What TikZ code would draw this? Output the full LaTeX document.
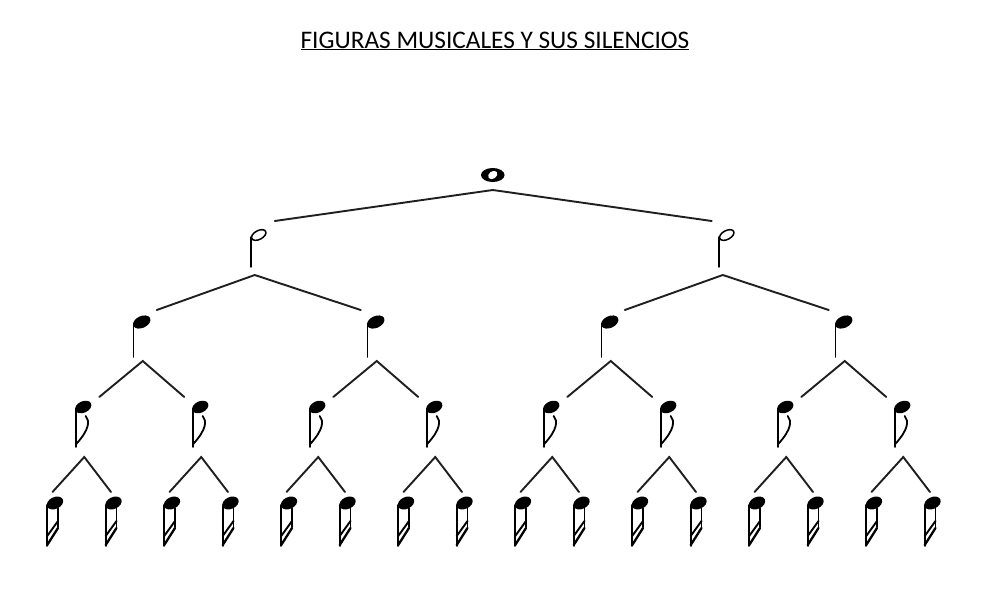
\documentclass[tikz,border=0pt]{standalone}
\usepackage{fontspec}
\setmainfont{Carlito}
\begin{document}
\begin{tikzpicture}[x=1pt,y=-1pt,line cap=round]
\tikzset{
  conn/.style={line width=1.9pt,draw=black!88},
  stemline/.style={line width=1.8pt},
  pics/notewhole/.style={code={
    \fill (0,0) ellipse [x radius=11.8,y radius=7];
    \fill[white,rotate=35] (0,0) ellipse [x radius=5,y radius=3.7];
  }},
  pics/notehalf/.style={code={
    \draw[line width=1.5pt,rotate=28] (0,0) ellipse [x radius=7.8,y radius=4.4];
    \draw[line width=1.4pt] (-7.6,2) -- (-7.6,32);
  }},
  pics/notequarter/.style={code={
    \fill[rotate=25] (0,0) ellipse [x radius=9.2,y radius=5.9];
    \draw[stemline] (-8.3,2) -- (-8.3,35);
  }},
  pics/noteeighth/.style={code={
    \fill[rotate=25] (0,0) ellipse [x radius=8.6,y radius=5.7];
    \draw[stemline] (-7.2,2) -- (-7.2,40);
    \draw[line width=1.8pt] (2.5,9) .. controls (6.5,14) and (6.5,22) .. (-7,37);
  }},
  pics/notesixteenth/.style={code={
    \fill[rotate=25] (0,0) ellipse [x radius=8.6,y radius=5.9];
    \draw[stemline] (-7.8,2) -- (-7.8,43);
    \draw[line width=1.5pt] (3,5) -- (3,24);
    \draw[line width=1.9pt] (3,18) -- (-7.8,33);
    \draw[line width=2.3pt] (3,25) -- (-7.8,42);
  }}
}
\fill[white] (0,0) rectangle (990,598);
\useasboundingbox (0,0) rectangle (990,598);

\node[font=\fontsize{25.3}{30}\selectfont,anchor=base,inner sep=0pt] (title) at (495,48)
  {\underline{FIGURAS MUSICALES Y SUS SILENCIOS}};

% root (whole note)
\coordinate (w) at (492.75,175);
\pic at (w) {notewhole};
\coordinate (w-a) at (492.75,190);

% half notes
\foreach \m in {0,1} {
  \pgfmathsetmacro\xx{258.75+468*\m}
  \pgfmathsetmacro\off{ifthenelse(\m==0,16,-15)}
  \coordinate (h\m) at (\xx,235);
  \pic at (h\m) {notehalf};
  \coordinate (h\m-a) at (\xx-4,275);
  \coordinate (h\m-t) at (\xx+\off,221);
}
\draw[conn] (h0-t) -- (w-a) -- (h1-t);

% quarter notes
\foreach \k in {0,...,3} {
  \pgfmathsetmacro\xx{141.75+234*\k}
  \pgfmathsetmacro\off{ifthenelse(mod(\k,2)==0,15,-15)}
  \coordinate (q\k) at (\xx,322);
  \pic at (q\k) {notequarter};
  \coordinate (q\k-a) at (\xx+1,361);
  \coordinate (q\k-t) at (\xx+\off,310);
}
\foreach \m in {0,1} {
  \pgfmathtruncatemacro\l{2*\m}
  \pgfmathtruncatemacro\r{2*\m+1}
  \draw[conn] (q\l-t) -- (h\m-a) -- (q\r-t);
}

% eighth notes
\foreach \j in {0,...,7} {
  \pgfmathsetmacro\xx{83.25+117*\j}
  \pgfmathsetmacro\off{ifthenelse(mod(\j,2)==0,16,-16)}
  \coordinate (e\j) at (\xx,407);
  \pic at (e\j) {noteeighth};
  \coordinate (e\j-a) at (\xx+1,457);
  \coordinate (e\j-t) at (\xx+\off,397);
}
\foreach \k in {0,...,3} {
  \pgfmathtruncatemacro\l{2*\k}
  \pgfmathtruncatemacro\r{2*\k+1}
  \draw[conn] (e\l-t) -- (q\k-a) -- (e\r-t);
}

% sixteenth notes
\foreach \i in {0,...,15} {
  \pgfmathsetmacro\xx{55+58.5*\i}
  \coordinate (s\i) at (\xx,503);
  \pic at (s\i) {notesixteenth};
  \coordinate (s\i-t) at (\xx-2.5,492);
}
\foreach \j in {0,...,7} {
  \pgfmathtruncatemacro\l{2*\j}
  \pgfmathtruncatemacro\r{2*\j+1}
  \draw[conn] (s\l-t) -- (e\j-a) -- (s\r-t);
}
\end{tikzpicture}
\end{document}
